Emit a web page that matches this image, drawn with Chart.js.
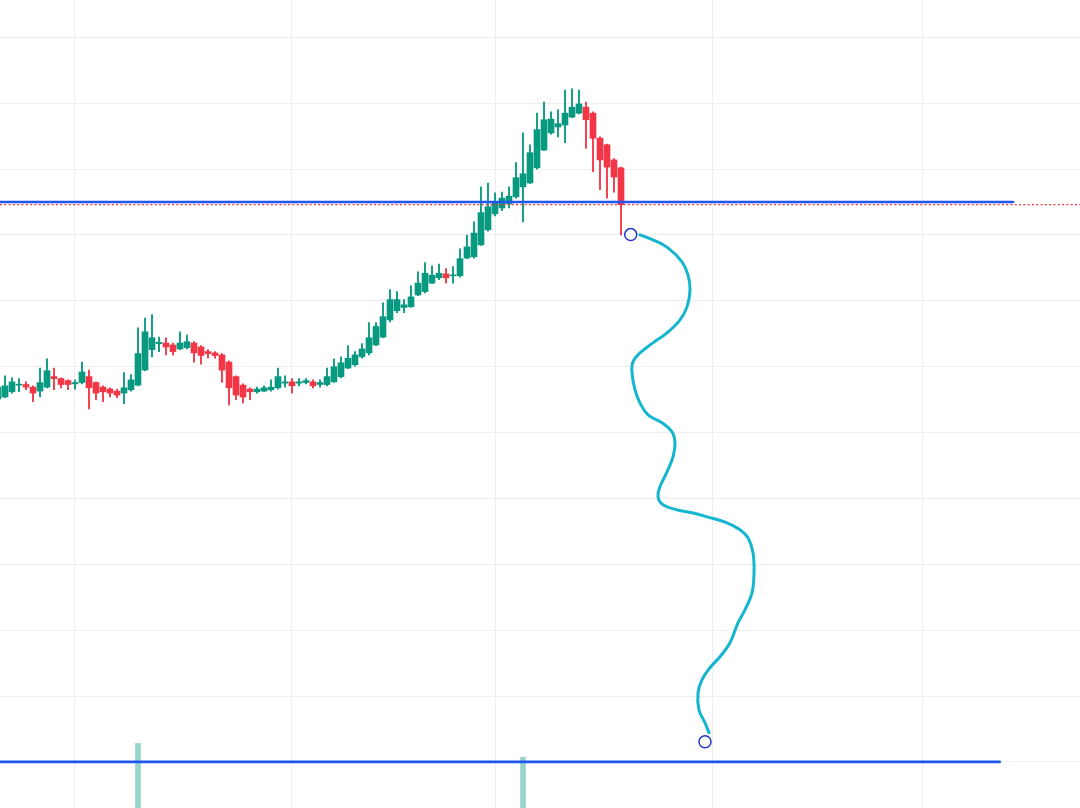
<!DOCTYPE html>
<html>
<head>
<meta charset="utf-8">
<script src="https://cdn.jsdelivr.net/npm/chart.js@4"></script>
<style>
html, body { margin: 0; padding: 0; background: #ffffff; }
#wrap { width: 1080px; height: 808px; position: relative; }
</style>
</head>
<body>
<div id="wrap"><canvas id="chart"></canvas></div>
<script>
// day index of the first candle (0 = first day of the month at the first grid line)
const firstDay = -11;

const opens = [55.1, 55.4, 56.2, 57.2, 57.3, 56.9, 56.3, 56.9, 58.5, 58.2, 57.9,
    57.4, 57.6, 58.5, 57.6, 56.9, 56.6, 56.3, 56.0, 56.5, 57.2, 59.5, 62.6, 63.5, 63.6, 63.3, 62.7, 62.9, 63.6, 63.0, 62.3, 62.1, 61.8, 60.7, 58.5, 57.2, 56.6, 56.2, 56.3, 56.5, 56.8, 57.5,
    57.7, 57.5, 57.6, 57.7, 57.3, 57.3, 57.7, 58.5, 59.8, 60.3, 61.5, 62.1, 63.3, 64.5, 67.1, 68.5, 69.0, 69.1, 70.9, 71.4, 72.7, 73.5, 74.1, 73.8, 73.8, 76.5, 76.7, 78.5, 80.8,
    83.2, 84.1, 84.7, 85.8, 87.3, 87.9, 90.2, 92.9, 95.5, 96.4, 96.7, 97.9, 98.5, 99.4, 98.5, 94.7, 93.7, 91.4, 90.2];
const highs = [57.4, 58.6, 58.3, 58.2, 57.7, 57.1, 59.8, 61.2, 59.8, 58.3, 58.0,
    58.0, 60.7, 59.5, 57.7, 57.1, 56.8, 56.6, 59.1, 58.8, 65.9, 67.4, 67.9, 64.5, 64.4, 63.6, 65.3, 64.8, 63.8, 63.2, 62.6, 62.3, 62.0, 60.9, 58.6, 57.4, 56.8, 56.9, 57.1, 58.0, 59.8, 58.6,
    58.2, 58.2, 58.2, 58.0, 58.0, 59.8, 61.2, 61.5, 63.2, 62.3, 63.5, 66.7, 66.7, 69.7, 71.7, 71.4, 70.2, 72.3, 74.4, 75.8, 75.3, 75.6, 74.9, 75.2, 77.9, 80.0, 82.0, 87.3, 87.9,
    86.4, 86.5, 87.3, 91.0, 95.5, 93.7, 98.5, 100.2, 98.7, 99.0, 102.0, 102.2, 102.0, 100.2, 98.7, 94.9, 93.8, 91.6, 90.3];
const lows = [54.8, 55.3, 56.0, 56.2, 56.5, 54.7, 55.4, 56.8, 56.5, 56.8, 56.5,
    56.6, 57.4, 53.6, 55.0, 54.7, 55.4, 55.3, 54.4, 56.3, 57.1, 59.4, 61.5, 62.3, 61.8, 61.8, 62.6, 62.7, 60.7, 60.4, 61.3, 61.3, 57.6, 54.2, 55.0, 54.5, 55.0, 56.0, 56.2, 56.3, 56.6, 56.9,
    56.0, 57.1, 57.4, 56.8, 56.9, 57.1, 57.6, 58.3, 59.7, 60.1, 61.3, 61.8, 63.2, 64.4, 66.8, 68.2, 68.2, 69.0, 70.8, 71.2, 72.6, 73.2, 72.7, 72.7, 73.6, 76.4, 76.5, 78.4, 80.6,
    82.9, 83.7, 84.1, 85.6, 82.0, 87.8, 90.0, 92.8, 95.3, 94.9, 94.0, 97.8, 98.4, 93.2, 89.6, 86.9, 85.6, 86.5, 80.0];
const closes = [56.9, 57.1, 57.7, 57.3, 56.9, 56.0, 57.6, 59.4, 58.2, 57.3, 57.3,
    57.6, 59.2, 56.8, 56.0, 56.2, 56.0, 55.7, 56.8, 58.0, 62.0, 65.3, 64.4, 63.7, 63.0, 62.3, 63.6, 63.8, 62.1, 61.7, 62.0, 61.7, 59.5, 56.8, 55.7, 55.4, 56.2, 56.6, 56.8, 56.9, 58.5, 57.7,
    57.1, 57.7, 57.9, 57.1, 57.6, 58.5, 60.0, 60.6, 61.3, 61.8, 62.7, 64.4, 66.1, 67.6, 70.2, 70.2, 69.4, 70.6, 72.7, 74.2, 73.9, 74.2, 73.5, 73.9, 76.4, 78.2, 80.3, 83.4, 84.3,
    85.0, 85.6, 85.9, 88.7, 89.3, 92.5, 96.0, 97.5, 97.6, 96.9, 98.5, 99.4, 99.9, 97.5, 94.7, 91.4, 90.3, 88.8, 84.6];

// volume spikes that reach into the visible area
const volumeDays = [9, 64];
const volumeTops = [2.8, 0.7];

// month starts (vertical grid) and price grid
const monthStarts = [0, 31, 60, 91, 121];
const priceGrid = [0, 10, 20, 30, 40, 50, 60, 70, 80, 90, 100, 110];

// drawings
const upperLevel = 85.0;
const upperLevelEnd = 134.0;
const lowerLevel = 0.0;
const lowerLevelEnd = 132.1;
const pathX = [80.71, 82.57, 84.71, 86.71, 87.57, 87.86, 87.43, 86.43, 84.57, 82.57, 80.71, 79.71, 79.57, 80.0, 80.71, 81.86,
    83.86, 85.29, 85.71, 85.43, 84.57, 83.57, 83.29, 84.0, 86.0, 88.14, 90.29, 93.14, 95.0, 96.14, 96.86, 97.0, 96.71,
    95.71, 94.71, 93.57, 92.14, 90.71, 89.57, 89.0, 89.14, 90.0, 90.57];
const pathY = [80.02, 79.26, 78.04, 75.92, 73.95, 71.67, 69.09, 67.11, 65.14, 63.62, 62.10, 60.74, 59.07, 56.49, 54.51, 52.69,
    51.48, 50.11, 48.44, 46.32, 44.04, 41.76, 40.25, 39.03, 38.27, 37.82, 37.21, 36.30, 35.24, 34.02, 31.75, 28.71, 25.67,
    23.09, 21.12, 18.08, 15.96, 14.29, 12.47, 10.49, 7.91, 5.94, 4.42];
const anchorX = [79.39, 90.0];
const anchorY = [80.06, 3.05];

const upColor = '#089981';
const downColor = '#F23645';
const xMin = -10.714;
const xMax = 143.571;

const bodies = [];
const wicks = [];
const candleColors = [];
opens.forEach((o, i) => {
    const day = firstDay + i;
    bodies.push({ x: day, y: [o, closes[i]] });
    wicks.push({ x: day, y: [lows[i], highs[i]] });
    candleColors.push(closes[i] >= o ? upColor : downColor);
});

const volumeBars = volumeDays.map((d, i) => ({ x: d, y: [-8, volumeTops[i]] }));
const lastClose = closes[closes.length - 1];

new Chart(document.getElementById('chart'), {
    type: 'bar',
    data: {
        datasets: [
            {
                data: volumeBars,
                backgroundColor: 'rgba(8, 153, 129, 0.42)',
                barThickness: 5,
                grouped: false,
                order: 6
            },
            {
                data: wicks,
                backgroundColor: candleColors,
                barThickness: 1.2,
                grouped: false,
                order: 5
            },
            {
                data: bodies,
                backgroundColor: candleColors,
                barThickness: 6,
                minBarLength: 1,
                grouped: false,
                order: 4
            },
            {
                type: 'line',
                data: [{ x: xMin, y: lastClose }, { x: xMax, y: lastClose }],
                borderColor: downColor,
                borderWidth: 1.2,
                borderDash: [2, 2.3],
                pointRadius: 0,
                order: 3
            },
            {
                type: 'line',
                data: [{ x: xMin, y: upperLevel }, { x: upperLevelEnd, y: upperLevel }],
                borderColor: '#1f56ee',
                borderWidth: 2.6,
                borderCapStyle: 'round',
                pointRadius: 0,
                order: 2
            },
            {
                type: 'line',
                data: [{ x: xMin, y: lowerLevel }, { x: lowerLevelEnd, y: lowerLevel }],
                borderColor: '#1f56ee',
                borderWidth: 2.6,
                borderCapStyle: 'round',
                pointRadius: 0,
                order: 2
            },
            {
                type: 'line',
                data: pathX.map((x, i) => ({ x: x, y: pathY[i] })),
                borderColor: '#14b6cf',
                borderWidth: 3,
                borderCapStyle: 'round',
                borderJoinStyle: 'round',
                tension: 0.4,
                pointRadius: 0,
                order: 1
            },
            {
                type: 'line',
                data: anchorX.map((x, i) => ({ x: x, y: anchorY[i] })),
                showLine: false,
                pointRadius: 6,
                pointBorderWidth: 1.5,
                pointBorderColor: '#2236c8',
                pointBackgroundColor: '#ffffff',
                order: 0
            }
        ]
    },
    options: {
        responsive: true,
        maintainAspectRatio: false,
        animation: false,
        layout: { padding: 0, autoPadding: false },
        plugins: {
            legend: { display: false },
            tooltip: { enabled: false }
        },
        scales: {
            x: {
                type: 'linear',
                min: xMin,
                max: xMax,
                offset: false,
                afterBuildTicks: (scale) => { scale.ticks = monthStarts.map(v => ({ value: v })); },
                ticks: { display: false },
                grid: { color: '#eceef1', lineWidth: 1, drawTicks: false, offset: false },
                border: { display: false }
            },
            y: {
                type: 'linear',
                min: -7,
                max: 115.68,
                afterBuildTicks: (scale) => { scale.ticks = priceGrid.map(v => ({ value: v })); },
                ticks: { display: false },
                grid: { color: '#eceef1', lineWidth: 1, drawTicks: false },
                border: { display: false }
            }
        }
    }
});
</script>
</body>
</html>
